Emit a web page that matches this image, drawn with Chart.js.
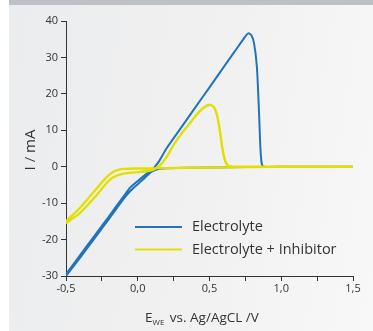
<!DOCTYPE html>
<html>
<head>
<meta charset="utf-8">
<script src="https://cdn.jsdelivr.net/npm/chart.js@4.4.0/dist/chart.umd.min.js"></script>
<style>
    html, body { margin: 0; padding: 0; background: #fff; }
    #wrap { position: relative; width: 373px; height: 331px; overflow: hidden; }
    #topbar { position: absolute; left: 9px; top: 0; width: 364px; height: 5px; background: #bdc1c5; }
    #panel { position: absolute; left: 9px; top: 5px; width: 364px; height: 326px;
        background: linear-gradient(100deg, #ebeced 0%, #f1f1f2 55%, #f8f8f8 100%); }
    #chart { position: absolute; left: 0; top: 0; }
</style>
</head>
<body>
<div id="wrap">
    <div id="topbar"></div>
    <div id="panel"></div>
    <canvas id="chart" width="373" height="331"></canvas>
</div>
<script>
// Electrolyte (forward scan then reverse scan), potential in V
const blueE = [-0.5, -0.4, -0.3, -0.2, -0.1, -0.05, 0, 0.05, 0.1, 0.12, 0.15, 0.2, 0.3, 0.4, 0.5, 0.6, 0.7, 0.75, 0.77, 0.79, 0.81, 0.83, 0.845, 0.855, 0.865, 0.88, 1.0, 1.5,
               1.0, 0.5, 0.2, 0.15, 0.1, 0.05, 0, -0.05, -0.1, -0.2, -0.3, -0.4, -0.5];
const blueI = [-29.5, -24.2, -18.9, -13.6, -8.2, -5.6, -3.9, -2.3, -0.8, 0, 1.6, 5.0, 10.6, 16.2, 21.8, 27.4, 33.0, 35.8, 36.6, 36.2, 34.0, 27.5, 15.0, 5.0, 0.6, 0, 0, 0,
               0, -0.2, -0.4, -0.6, -1.3, -3.0, -4.8, -6.6, -8.9, -14.3, -19.6, -24.9, -30.0];

// Electrolyte + Inhibitor
const yellowE = [-0.5, -0.4, -0.3, -0.22, -0.17, -0.1, 0, 0.1, 0.15, 0.2, 0.25, 0.3, 0.35, 0.4, 0.45, 0.5, 0.53, 0.55, 0.57, 0.59, 0.61, 0.63, 0.66, 1.0, 1.5,
                 1.0, 0.5, 0.2, 0.0, -0.1, -0.13, -0.17, -0.22, -0.3, -0.4, -0.5];
const yellowI = [-15.5, -12.6, -8.4, -4.6, -2.9, -1.9, -1.5, -0.9, 0.2, 2.6, 6.0, 8.8, 11.3, 13.8, 15.9, 17.0, 16.4, 14.5, 10.5, 5.0, 1.5, 0.3, 0, 0, 0,
                 0, -0.2, -0.4, -0.5, -0.6, -0.8, -1.4, -3.0, -6.6, -11.2, -15.0];

const seriesLabels = ['Electrolyte', 'Electrolyte + Inhibitor'];
const seriesColors = ['#1f74bd', '#e3df00'];
const xTicks = [-0.5, 0, 0.5, 1.0, 1.5];
const yTicks = [-30, -20, -10, 0, 10, 20, 30, 40];

const FONT = '"Open Sans", "Noto Sans", sans-serif';
const TEXT = '#333333';

function toPoints(xs, ys) {
    return xs.map((x, i) => ({ x: x, y: ys[i] }));
}

// custom legend + axis titles (subscript in x title)
const decorations = {
    id: 'decorations',
    afterDraw(chart) {
        const ctx = chart.ctx;
        ctx.save();
        // legend
        chart.data.datasets.forEach((ds, i) => {
            const y = 227 + i * 22.5;
            ctx.strokeStyle = ds.borderColor;
            ctx.lineWidth = 2;
            ctx.beginPath();
            ctx.moveTo(135, y);
            ctx.lineTo(182, y);
            ctx.stroke();
            ctx.fillStyle = TEXT;
            ctx.font = '14.5px ' + FONT;
            ctx.textBaseline = 'middle';
            ctx.textAlign = 'left';
            ctx.fillText(ds.label, 192, y);
        });
        // y title
        ctx.save();
        ctx.translate(31, 150);
        ctx.rotate(-Math.PI / 2);
        ctx.font = '15px ' + FONT;
        ctx.textAlign = 'center';
        ctx.textBaseline = 'middle';
        ctx.fillStyle = TEXT;
        ctx.fillText('I / mA', 0, 0);
        ctx.restore();
        // x title
        ctx.textBaseline = 'alphabetic';
        ctx.fillStyle = TEXT;
        let x = 145;
        const base = 322;
        ctx.font = '13.5px ' + FONT;
        ctx.fillText('E', x, base);
        x += ctx.measureText('E').width;
        ctx.font = '8px ' + FONT;
        ctx.fillText('WE', x, base + 3);
        x += ctx.measureText('WE').width + 2;
        ctx.font = '13.5px ' + FONT;
        ctx.fillText(' vs. Ag/AgCL /V', x, base);
        ctx.restore();
    }
};

new Chart(document.getElementById('chart').getContext('2d'), {
    type: 'scatter',
    data: {
        datasets: [{
            label: seriesLabels[0],
            data: toPoints(blueE, blueI),
            showLine: true,
            borderColor: seriesColors[0],
            backgroundColor: seriesColors[0],
            borderWidth: 2,
            pointRadius: 0,
            tension: 0.25,
            order: 2
        }, {
            label: seriesLabels[1],
            data: toPoints(yellowE, yellowI),
            showLine: true,
            borderColor: seriesColors[1],
            backgroundColor: seriesColors[1],
            borderWidth: 2.4,
            pointRadius: 0,
            tension: 0.25,
            order: 1
        }]
    },
    options: {
        responsive: false,
        animation: false,
        layout: { padding: { left: 0, top: 21, right: 20, bottom: 0 } },
        plugins: { legend: { display: false }, tooltip: { enabled: false } },
        scales: {
            x: {
                type: 'linear',
                min: xTicks[0],
                max: xTicks[xTicks.length - 1],
                afterFit: function(scale) { scale.height = 55; },
                ticks: {
                    stepSize: 0.25,
                    autoSkip: false,
                    maxRotation: 0,
                    padding: 1,
                    color: TEXT,
                    font: { family: FONT, size: 11 },
                    callback: function(v) {
                        const hit = xTicks.find(t => Math.abs(t - v) < 1e-6);
                        return hit === undefined ? '' : hit.toFixed(1).replace('.', ',');
                    }
                },
                grid: { drawOnChartArea: false, drawTicks: true, tickLength: 5, color: TEXT },
                border: { display: true, color: TEXT, width: 1 }
            },
            y: {
                type: 'linear',
                min: yTicks[0],
                max: yTicks[yTicks.length - 1],
                afterFit: function(scale) { scale.width = 66; },
                ticks: {
                    stepSize: 10,
                    padding: 3,
                    color: TEXT,
                    font: { family: FONT, size: 11 }
                },
                grid: { drawOnChartArea: false, drawTicks: true, tickLength: 5, color: TEXT },
                border: { display: true, color: TEXT, width: 1 }
            }
        }
    },
    plugins: [decorations]
});
</script>
</body>
</html>
